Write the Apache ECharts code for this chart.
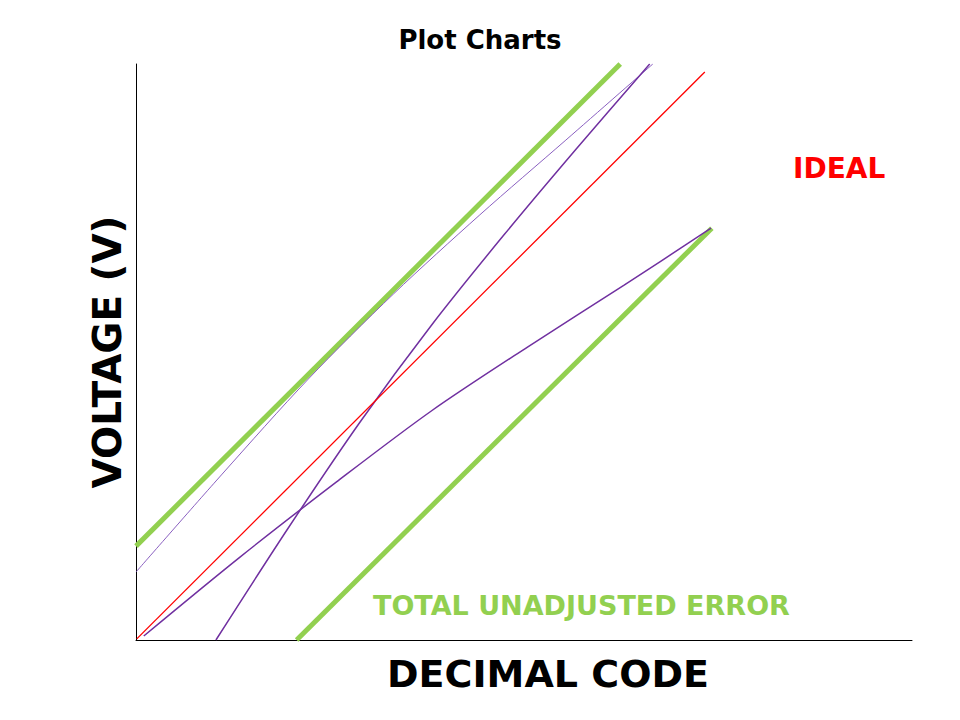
<!DOCTYPE html>
<html>
<head>
<meta charset="utf-8">
<script src="https://cdn.jsdelivr.net/npm/echarts@6/dist/echarts.min.js"></script>
<style>
  html, body { margin: 0; padding: 0; background: #fff; }
  #chart { width: 960px; height: 720px; }
</style>
</head>
<body>
<div id="chart"></div>
<script>
// values, x and y in 0..100 of the plot area
const tueUpper = [[0, 16.3], [62.4, 100]];
const tueLower = [[20.7, 0], [74.2, 71.5]];
const ideal = [[0.1, 0.2], [73.3, 98.6]];
const offsetCurve = [[0, 11.8], [11.1, 28.8], [22.2, 45.3], [33.2, 60.1], [44.3, 73.8], [55.4, 86.8], [66.6, 100]];
const gainCurve = [[10.3, 0], [19.6, 19.4], [28.9, 37.9], [38.1, 54.7], [47.4, 70.3], [56.7, 85.2], [66.2, 100]];
const inlCurve = [[1.0, 0.7], [13.4, 14.4], [25.8, 27.4], [38.1, 39.8], [50.5, 50.9], [62.9, 61.6], [74.1, 71.5]];

const chartDom = document.getElementById('chart');
const myChart = echarts.init(chartDom, null, { renderer: 'svg' });

const font = 'DejaVu Sans';
const green = '#92d050';
const purple = '#7030a0';

const option = {
    animation: false,
    title: {
        text: 'Plot Charts',
        left: 'center',
        top: 22,
        textStyle: { fontFamily: font, fontWeight: 'bold', fontSize: 26, color: '#000' }
    },
    grid: { left: 136, right: 48, top: 64, bottom: 80, containLabel: false },
    xAxis: {
        type: 'value',
        min: 0,
        max: 100,
        name: 'DECIMAL CODE',
        nameLocation: 'middle',
        nameGap: 15,
        nameTextStyle: { fontFamily: font, fontWeight: 'bold', fontSize: 38, color: '#000', padding: [0, 0, 0, 48] },
        axisLine: { show: true, lineStyle: { color: '#000', width: 1 } },
        axisTick: { show: false },
        axisLabel: { show: false },
        splitLine: { show: false }
    },
    yAxis: {
        type: 'value',
        min: 0,
        max: 100,
        name: 'VOLTAGE (V)',
        nameLocation: 'middle',
        nameGap: 9,
        nameTextStyle: { fontFamily: font, fontWeight: 'bold', fontSize: 39, color: '#000' },
        axisLine: { show: true, lineStyle: { color: '#000', width: 1 } },
        axisTick: { show: false },
        axisLabel: { show: false },
        splitLine: { show: false }
    },
    graphic: [
        {
            type: 'text', left: 793, top: 154,
            style: { text: 'IDEAL', fill: '#ff0000', font: 'bold 28px "DejaVu Sans"' }
        },
        {
            type: 'text', left: 373, top: 592,
            style: { text: 'TOTAL UNADJUSTED ERROR', fill: green, font: 'bold 27px "DejaVu Sans"' }
        }
    ],
    series: [
        { name: 'TUE upper', type: 'line', data: tueUpper, showSymbol: false, lineStyle: { color: green, width: 5 }, z: 1 },
        { name: 'TUE lower', type: 'line', data: tueLower, showSymbol: false, lineStyle: { color: green, width: 5 }, z: 1 },
        { name: 'Offset', type: 'line', data: offsetCurve, smooth: 0.3, showSymbol: false, lineStyle: { color: '#8a60c0', width: 1 }, z: 3 },
        { name: 'Gain', type: 'line', data: gainCurve, smooth: 0.3, showSymbol: false, lineStyle: { color: purple, width: 1.5 }, z: 3 },
        { name: 'INL', type: 'line', data: inlCurve, smooth: 0.3, showSymbol: false, lineStyle: { color: purple, width: 1.5 }, z: 3 },
        { name: 'Ideal', type: 'line', data: ideal, showSymbol: false, lineStyle: { color: '#ff0000', width: 1.3 }, z: 5 }
    ]
};

option && myChart.setOption(option);
</script>
</body>
</html>
